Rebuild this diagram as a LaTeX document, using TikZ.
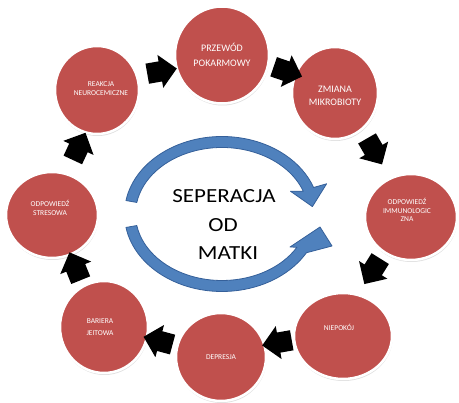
\documentclass[tikz,border=0pt]{standalone}
\usepackage{fontspec}
\setmainfont{Carlito}
\usetikzlibrary{shapes.geometric,shapes.arrows,shadows,calc}
\definecolor{cred}{HTML}{C0504D}
\definecolor{cblue}{HTML}{4F81BD}
\definecolor{cblueD}{HTML}{35609A}
\begin{document}
\begin{tikzpicture}[x=1pt,y=1pt,
  circ/.style={ellipse, fill=cred, draw=white, line width=2.5pt, inner sep=0pt,
    drop shadow={shadow xshift=0.5pt, shadow yshift=-2pt, opacity=0.25}},
  big/.style={text=white, align=center, font=\fontsize{10}{15}\selectfont},
  small/.style={text=white, align=center, font=\fontsize{7.5}{8.5}\selectfont},
  blk/.style={single arrow, fill=black, draw=none, minimum height=30pt,
    inner xsep=0pt, inner ysep=10pt, single arrow head extend=6.5pt},
  barc/.style={fill=cblue, draw=cblueD, line width=0.8pt, line join=round},
  ctext/.style={font=\fontsize{20}{24}\selectfont, xscale=1.15, anchor=base, inner sep=0pt}
]
\useasboundingbox (0,0) rectangle (459,403);
\fill[white] (0,0) rectangle (459,403);

% central circular arrows
\coordinate (ctr) at (222,189);
\draw[barc] ($(ctr)+(170:97.5 and 77.5)$)
  arc[start angle=170, end angle=20, x radius=97.5, y radius=77.5]
  -- (326.6,219.2) -- (312.4,196.4) -- (290.4,211.8)
  -- ($(ctr)+(20:86.5 and 66.5)$)
  arc[start angle=20, end angle=170, x radius=86.5, y radius=66.5] -- cycle;
\draw[barc] ($(ctr)+(190:97.5 and 77.5)$)
  arc[start angle=190, end angle=330, x radius=97.5, y radius=77.5]
  -- (332,157) -- (320,176) -- (290,156)
  -- ($(ctr)+(330:86.5 and 66.5)$)
  arc[start angle=330, end angle=190, x radius=86.5, y radius=66.5] -- cycle;

\node[ctext] (s1) at (224,200) {SEPERACJA};
\node[ctext] (s2) at (223,171) {OD};
\node[ctext] (s3) at (228,143) {MATKI};

% circles
\node[circ, minimum width=94pt, minimum height=97pt] (c1) at (222,348) {};
\node[circ, minimum width=86pt, minimum height=92pt] (c2) at (335,310) {};
\node[circ, minimum width=92pt, minimum height=86pt] (c3) at (411,186) {};
\node[circ, minimum width=98pt, minimum height=86pt] (c4) at (343,67) {};
\node[circ, minimum width=90pt, minimum height=88pt] (c5) at (221,46) {};
\node[circ, minimum width=88pt, minimum height=92pt] (c6) at (104,76) {};
\node[circ, minimum width=92pt, minimum height=86pt] (c7) at (52,188) {};
\node[circ, minimum width=84pt, minimum height=88pt] (c8) at (97,313) {};

% texts
\node[big] (t1) at (c1) {PRZEWÓD\\POKARMOWY};
\node[big, font=\fontsize{10}{13}\selectfont, yshift=-3pt] (t2) at (c2) {ZMIANA\\MIKROBIOTY};
\node[small, xshift=-4pt, yshift=7pt] (t3) at (c3) {ODPOWIEDŹ\\IMMUNOLOGIC\\ZNA};
\node[small, xshift=-4pt, yshift=9pt] (t4) at (c4) {NIEPOKÓJ};
\node[small] (t5) at (c5) {DEPRESJA};
\node[small, xshift=-4pt, font=\fontsize{7.5}{12}\selectfont] (t6) at (c6) {BARIERA\\JEITOWA};
\node[small, xshift=-2pt, yshift=7pt] (t7) at (c7) {ODPOWIEDŹ\\STRESOWA};
\node[small, xshift=4pt, yshift=1.5pt] (t8) at (c8) {REAKCJA\\NEUROCEMICZNE};

% black block arrows
\node[blk, rotate=10]   (a1) at (157,331) {};
\node[blk, rotate=-19]  (a2) at (283,333) {};
\node[blk, rotate=-60]  (a3) at (372,256) {};
\node[blk, rotate=-122] (a4) at (375,136) {};
\node[blk, rotate=190]  (a5) at (282,61) {};
\node[blk, rotate=165]  (a6) at (163,61) {};
\node[blk, rotate=112]  (a7) at (77,132) {};
\node[blk, rotate=65]   (a8) at (77,252) {};
\end{tikzpicture}
\end{document}
